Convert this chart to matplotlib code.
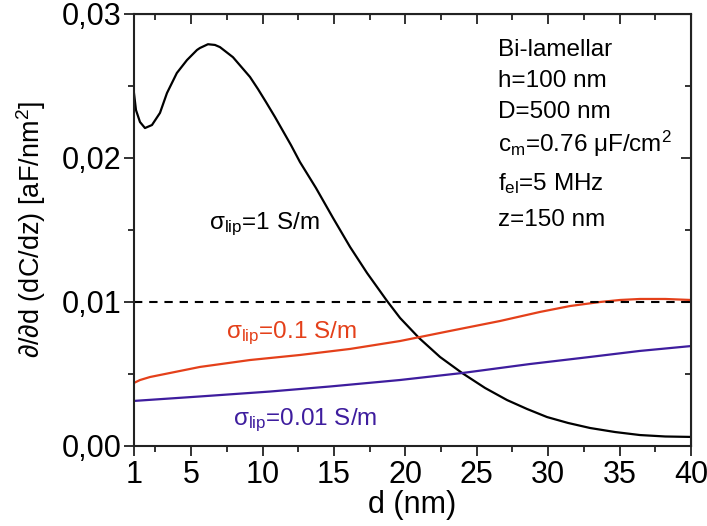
import matplotlib
matplotlib.use('Agg')
import matplotlib.pyplot as plt
from matplotlib.ticker import MultipleLocator, FixedLocator, FuncFormatter

plt.rcParams['font.family'] = ['Liberation Sans', 'DejaVu Sans']
plt.rcParams['mathtext.fontset'] = 'custom'
plt.rcParams['mathtext.rm'] = 'Liberation Sans'
plt.rcParams['mathtext.it'] = 'Liberation Sans:italic'

# values
d_black = [1.0, 1.14, 1.42, 1.77, 2.26, 2.82, 3.31, 4.0, 4.71, 5.41, 5.62, 6.18, 6.67, 7.02,
           7.93, 9.12, 9.68, 10.24, 10.87, 11.99, 12.62, 13.74, 14.94, 16.13, 17.32, 18.72,
           19.63, 20.96, 22.43, 23.97, 25.58, 27.12, 28.52, 29.92, 31.39, 32.93, 34.68,
           36.43, 38.2, 40.0]
v_black = [0.02451, 0.02333, 0.0225, 0.02208, 0.02229, 0.02313, 0.02451, 0.0259, 0.0268,
           0.0275, 0.02764, 0.0279, 0.02785, 0.0277, 0.0270, 0.02563, 0.02479, 0.02389,
           0.02285, 0.0209, 0.01972, 0.01792, 0.01583, 0.01382, 0.01201, 0.01007, 0.00889,
           0.0075, 0.00618, 0.00507, 0.00403, 0.00319, 0.00257, 0.00201, 0.0016, 0.00125,
           0.00097, 0.00076, 0.00066, 0.00063]

d_orange = [1.0, 1.42, 2.12, 3.87, 5.62, 9.12, 12.62, 16.13, 19.63, 23.13, 26.63, 29.43,
            31.53, 33.63, 35.03, 36.43, 38.2, 40.0]
v_orange = [0.00438, 0.00458, 0.00479, 0.00514, 0.00549, 0.00597, 0.00632, 0.00674, 0.00729,
            0.00799, 0.00868, 0.00931, 0.00972, 0.0100, 0.01014, 0.01021, 0.01021, 0.01014]

d_purple = [1.0, 5.62, 10.5, 14.7, 19.6, 24.0, 28.7, 32.9, 36.4, 40.0]
v_purple = [0.00313, 0.00344, 0.00378, 0.00413, 0.00458, 0.00507, 0.00569, 0.00618, 0.0066,
            0.00694]

ref_level = 0.01
x_major = [1, 5, 10, 15, 20, 25, 30, 35, 40]
x_minor = [2.5, 7.5, 12.5, 17.5, 22.5, 27.5, 32.5, 37.5]
info_lines = ['Bi-lamellar', 'h=100 nm', 'D=500 nm', r'c$_\mathregular{m}$=0.76 μF/cm$^\mathregular{2}$',
              r'f$_\mathregular{el}$=5 MHz', 'z=150 nm']
info_y = [0.02708, 0.02493, 0.02278, 0.02042, 0.01778, 0.01528]

ORANGE = '#E4401A'
PURPLE = '#3E1D9E'
SPINE = '#222222'

fig = plt.figure(figsize=(7.07, 5.26), dpi=100)
ax = fig.add_axes([0.1895, 0.1521, 0.7879, 0.8213])

ax.plot(d_black, v_black, color='black', lw=1.6)
ax.plot(d_orange, v_orange, color=ORANGE, lw=1.6)
ax.plot(d_purple, v_purple, color=PURPLE, lw=1.6)
ax.axhline(ref_level, color='black', lw=1.5, ls=(0, (4, 3.3)))

ax.set_xlim(1, 40)
ax.set_ylim(0, 0.03)
ax.xaxis.set_major_locator(FixedLocator(x_major))
ax.xaxis.set_minor_locator(FixedLocator(x_minor))
ax.yaxis.set_major_locator(MultipleLocator(0.01))
ax.yaxis.set_minor_locator(MultipleLocator(0.005))
ax.yaxis.set_major_formatter(FuncFormatter(lambda v, p: f'{v:.2f}'.replace('.', ',')))

for s in ax.spines.values():
    s.set_linewidth(1.5)
    s.set_color(SPINE)
ax.tick_params(which='both', labelsize=22, width=1.3, color=SPINE, direction='out',
               top=False, right=False)
ax.tick_params(axis='x', which='major', pad=3)
ax.tick_params(axis='y', which='major', pad=2)
ax.tick_params(which='major', length=7)
ax.tick_params(which='minor', length=4)

# mirrored inward ticks on the top and right
sec_x = ax.secondary_xaxis('top')
sec_x.xaxis.set_major_locator(FixedLocator(x_major))
sec_x.xaxis.set_minor_locator(FixedLocator(x_minor))
sec_x.tick_params(which='both', direction='in', labeltop=False, width=1.3, color=SPINE)
sec_x.tick_params(which='major', length=7)
sec_x.tick_params(which='minor', length=4)
sec_y = ax.secondary_yaxis('right')
sec_y.yaxis.set_major_locator(MultipleLocator(0.01))
sec_y.yaxis.set_minor_locator(MultipleLocator(0.005))
sec_y.tick_params(which='both', direction='in', labelright=False, width=1.3, color=SPINE)
sec_y.tick_params(which='major', length=7)
sec_y.tick_params(which='minor', length=4)

ax.set_xlabel('d (nm)', fontsize=22, labelpad=0)
ax.set_ylabel(r'∂/∂d (dC/dz) [aF/nm$^\mathregular{2}$]', fontsize=19.5, labelpad=10)

ax.text(6.25, 0.01507, r'$\mathregular{\sigma_{lip}}$=1 S/m', fontsize=17.5, color='black', va='baseline')
ax.text(7.44, 0.00750, r'$\mathregular{\sigma_{lip}}$=0.1 S/m', fontsize=17.5, color=ORANGE, va='baseline')
ax.text(7.93, 0.00146, r'$\mathregular{\sigma_{lip}}$=0.01 S/m', fontsize=17.5, color=PURPLE, va='baseline')

for txt, yy in zip(info_lines, info_y):
    ax.text(26.5, yy, txt, fontsize=17.5, va='baseline')

fig.savefig('out.png', dpi=100)
